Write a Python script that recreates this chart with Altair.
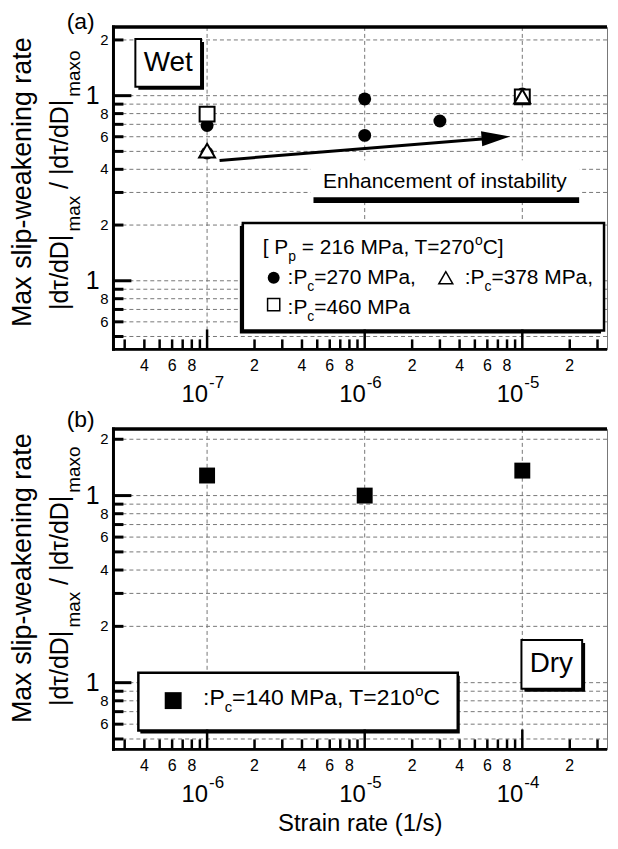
import math
import altair as alt
import pandas as pd

FONT = "Liberation Sans"
W = 496
H_A = 324
H_B = 322

# ---------------- data ----------------
# panel (a) wet
wet_circle_rate = [1e-7, 1e-7, 1e-6, 1e-6, 3e-6, 1e-5]
wet_circle_ratio = [0.69, 0.49, 0.96, 0.61, 0.73, 1.02]
wet_square_rate = [1e-7, 1e-5]
wet_square_ratio = [0.795, 0.985]
wet_triangle_rate = [1e-7, 1e-5]
wet_triangle_ratio = [0.505, 0.99]
arrow_rate = [1.2e-7, 5.55e-6]
arrow_ratio = [0.447, 0.584]
arrow_tip_rate = [8.4e-6]
arrow_tip_ratio = [0.602]
# panel (b) dry
dry_square_rate = [1e-6, 1e-5, 1e-4]
dry_square_ratio = [1.28, 1.0, 1.36]

# axes extents
x_domain_a = [2.547e-8, 3.447e-5]
x_domain_b = [2.547e-7, 3.447e-4]
y_domain_a = [0.0426, 2.35]
y_domain_b = [0.044, 2.27]

# tick values / labels
y_major = [1, 0.1]
y_minor = [2, 0.9, 0.8, 0.7, 0.6, 0.5, 0.4, 0.3, 0.2, 0.09, 0.08, 0.07, 0.06, 0.05]
y_small_label_values = [2, 0.8, 0.6, 0.4, 0.2, 0.08, 0.06]
y_small_label_text = ["2", "8", "6", "4", "2", "8", "6"]
y_big_label_values = [1, 0.1]
y_big_label_text = ["1", "1"]

x_major_a = [1e-7, 1e-6, 1e-5]
x_minor_a = ([m * 1e-8 for m in range(3, 10)] + [m * 1e-7 for m in range(2, 10)]
             + [m * 1e-6 for m in range(2, 10)] + [2e-5, 3e-5])
x_label_values_a = [4e-8, 6e-8, 8e-8, 2e-7, 4e-7, 6e-7, 8e-7, 2e-6, 4e-6, 6e-6, 8e-6, 2e-5]
x_exp_a = ["-7", "-6", "-5"]

x_major_b = [1e-6, 1e-5, 1e-4]
x_minor_b = ([m * 1e-7 for m in range(3, 10)] + [m * 1e-6 for m in range(2, 10)]
             + [m * 1e-5 for m in range(2, 10)] + [2e-4, 3e-4])
x_label_values_b = [4e-7, 6e-7, 8e-7, 2e-6, 4e-6, 6e-6, 8e-6, 2e-5, 4e-5, 6e-5, 8e-5, 2e-4]
x_exp_b = ["-6", "-5", "-4"]
x_label_text = ["4", "6", "8", "2", "4", "6", "8", "2", "4", "6", "8", "2"]

# ---------------- helpers ----------------
ONE = pd.DataFrame({"k": [0]})
ARIAL = {" ": 278, "[": 278, "]": 278, ":": 278, "=": 584, ",": 278, ".": 278,
         "M": 833, "P": 667, "T": 611, "C": 722, "D": 722, "a": 556, "c": 500,
         "p": 556, "o": 556, "x": 500, "m": 833, "d": 556, "|": 260, "/": 278,
         "τ": 520}


def tw(s, size):
    return sum(ARIAL.get(ch, 556) for ch in s) * size / 1000.0


def text_layer(s, x, y, size, align="left", baseline="alphabetic", angle=None):
    kw = dict(text=s, fontSize=size, align=align, baseline=baseline, font=FONT, color="black")
    if angle is not None:
        kw["angle"] = angle
    return alt.Chart(ONE).mark_text(**kw).encode(x=alt.value(x), y=alt.value(y))


def rect_layer(x1, y1, x2, y2, fill, stroke=None, sw=0):
    kw = dict(fill=fill, opacity=1)
    if stroke:
        kw.update(stroke=stroke, strokeWidth=sw)
    return alt.Chart(ONE).mark_rect(**kw).encode(
        x=alt.value(x1), x2=alt.value(x2), y=alt.value(y1), y2=alt.value(y2))


def boxed(x1, y1, x2, y2, dx, dy, sw=2):
    return [rect_layer(x1 + dx, y1 + dy, x2 + dx, y2 + dy, "black"),
            rect_layer(x1, y1, x2, y2, "white", "black", sw)]


def split_spaces(s):
    core = s.strip(" ")
    lead = len(s) - len(s.lstrip(" "))
    trail = len(s) - len(s.rstrip(" "))
    return " " * lead, core, " " * trail


def rich(pieces, x0, y0, main, small, sub_dy=7, sup_dy=-9):
    out = []
    x = x0
    for s, kind in pieces:
        size = main if kind == "m" else small
        dy = 0 if kind == "m" else (sub_dy if kind == "sub" else sup_dy)
        lead, core, trail = split_spaces(s)
        x += tw(lead, size)
        out.append(text_layer(core, x, y0 + dy, size))
        x += tw(core, size) + tw(trail, size)
    return out


def rich_rot(pieces, bx, yc, main, small, sub_dx):
    total = sum(tw(s, main if k == "m" else small) for s, k in pieces)
    y = yc + total / 2
    out = []
    for s, kind in pieces:
        size = main if kind == "m" else small
        dx = 0 if kind == "m" else sub_dx
        lead, core, trail = split_spaces(s)
        y -= tw(lead, size)
        out.append(text_layer(core, bx + dx, y, size, angle=270))
        y -= tw(core, size) + tw(trail, size)
    return out


def symbol_layer(x, y, shape, size, filled, sw=1.5):
    if filled:
        m = alt.Chart(ONE).mark_point(shape=shape, size=size, filled=True, color="black", opacity=1)
    else:
        m = alt.Chart(ONE).mark_point(shape=shape, size=size, filled=True, fill="white",
                                      stroke="black", strokeWidth=sw, opacity=1)
    return m.encode(x=alt.value(x), y=alt.value(y))


def grid_layers(xs, ys, x_major):
    grid = dict(color="#777", strokeWidth=1, strokeDash=[4, 3])
    return [
        alt.Chart(pd.DataFrame({"v": y_major + y_minor})).mark_rule(**grid).encode(
            y=alt.Y("v:Q", scale=ys, axis=None)),
        alt.Chart(pd.DataFrame({"v": x_major})).mark_rule(**grid).encode(
            x=alt.X("v:Q", scale=xs, axis=None)),
    ]


def tick_layers(xs, ys, H, x_major, x_minor, x_label_values, x_exp):
    L = []
    L.append(alt.Chart(pd.DataFrame({"v": y_major})).mark_rule(color="black", strokeWidth=3).encode(
        y=alt.Y("v:Q", scale=ys, axis=None), x=alt.value(0), x2=alt.value(18)))
    L.append(alt.Chart(pd.DataFrame({"v": y_minor})).mark_rule(color="black", strokeWidth=3).encode(
        y=alt.Y("v:Q", scale=ys, axis=None), x=alt.value(0), x2=alt.value(10)))
    L.append(alt.Chart(pd.DataFrame({"v": x_major})).mark_rule(color="black", strokeWidth=2.5).encode(
        x=alt.X("v:Q", scale=xs, axis=None), y=alt.value(H), y2=alt.value(H - 20)))
    L.append(alt.Chart(pd.DataFrame({"v": x_minor})).mark_rule(color="black", strokeWidth=2.5).encode(
        x=alt.X("v:Q", scale=xs, axis=None), y=alt.value(H), y2=alt.value(H - 10)))
    # frame lines (left, bottom, top)
    L.append(alt.Chart(ONE).mark_rule(color="black", strokeWidth=3).encode(
        x=alt.value(0), y=alt.value(-1.5), y2=alt.value(H + 1.5)))
    L.append(alt.Chart(ONE).mark_rule(color="black", strokeWidth=3).encode(
        x=alt.value(-1.5), x2=alt.value(W), y=alt.value(H)))
    L.append(alt.Chart(ONE).mark_rule(color="black", strokeWidth=3.5).encode(
        x=alt.value(-1.5), x2=alt.value(W), y=alt.value(0)))
    # tick labels
    L.append(alt.Chart(pd.DataFrame({"v": y_small_label_values, "t": y_small_label_text})).mark_text(
        font=FONT, fontSize=15, align="right", baseline="middle", color="black").encode(
        y=alt.Y("v:Q", scale=ys, axis=None), x=alt.value(-5), text="t:N"))
    L.append(alt.Chart(pd.DataFrame({"v": y_big_label_values, "t": y_big_label_text})).mark_text(
        font=FONT, fontSize=25, align="right", baseline="middle", color="black").encode(
        y=alt.Y("v:Q", scale=ys, axis=None), x=alt.value(-14), text="t:N"))
    L.append(alt.Chart(pd.DataFrame({"v": x_label_values, "t": x_label_text})).mark_text(
        font=FONT, fontSize=16, align="center", baseline="top", color="black").encode(
        x=alt.X("v:Q", scale=xs, axis=None), y=alt.value(H + 9), text="t:N"))
    dec = pd.DataFrame({"v": x_major, "b": ["10"] * len(x_major), "e": x_exp})
    L.append(alt.Chart(dec).mark_text(font=FONT, fontSize=24, align="right", dx=1,
                                      baseline="alphabetic", color="black").encode(
        x=alt.X("v:Q", scale=xs, axis=None), y=alt.value(H + 53), text="b:N"))
    L.append(alt.Chart(dec).mark_text(font=FONT, fontSize=17, align="left", dx=2,
                                      baseline="alphabetic", color="black").encode(
        x=alt.X("v:Q", scale=xs, axis=None), y=alt.value(H + 39), text="e:N"))
    return L


def ytitle_layers(yc):
    L = [text_layer("Max slip-weakening rate", -83, yc, 27, align="center", angle=270)]
    L += rich_rot([("|dτ/dD|", "m"), ("max", "s"), (" / ", "m"), ("|dτ/dD|", "m"), ("maxo", "s")],
                  -46, yc - 2, 25, 19, 12)
    return L


def pts(rates, ratios, xs, ys, shape, size, filled, sw=2):
    df = pd.DataFrame({"rate": rates, "ratio": ratios})
    if filled:
        m = alt.Chart(df).mark_point(shape=shape, size=size, filled=True, color="black", opacity=1)
    else:
        m = alt.Chart(df).mark_point(shape=shape, size=size, filled=True, fill="white",
                                     stroke="black", strokeWidth=sw, opacity=1)
    return m.encode(x=alt.X("rate:Q", scale=xs, axis=None), y=alt.Y("ratio:Q", scale=ys, axis=None))


# ---------------- panel (a) ----------------
xs_a = alt.Scale(type="log", domain=x_domain_a, nice=False)
ys_a = alt.Scale(type="log", domain=y_domain_a, nice=False)

la = grid_layers(xs_a, ys_a, x_major_a)
la.append(rect_layer(198, 134, 468, 172, "white"))
la.append(rect_layer(201, 171, 468, 177, "black"))
la += boxed(130, 197, 493, 305, -3, 3, 2.5)
la += boxed(22, 12, 88, 60, 3, 3, 2)
la += tick_layers(xs_a, ys_a, H_A, x_major_a, x_minor_a, x_label_values_a, x_exp_a)

la.append(pts(wet_circle_rate, wet_circle_ratio, xs_a, ys_a, "circle", 169, True))
la.append(pts(wet_square_rate, wet_square_ratio, xs_a, ys_a, "square", 225, False))
la.append(pts(wet_triangle_rate, wet_triangle_ratio, xs_a, ys_a, "triangle-up", 256, False))

la.append(alt.Chart(pd.DataFrame({"rate": arrow_rate, "ratio": arrow_ratio})).mark_line(
    color="black", strokeWidth=3).encode(
    x=alt.X("rate:Q", scale=xs_a, axis=None), y=alt.Y("ratio:Q", scale=ys_a, axis=None)))


def px_a(r):
    return W * (math.log10(r) - math.log10(x_domain_a[0])) / (math.log10(x_domain_a[1]) - math.log10(x_domain_a[0]))


def py_a(v):
    return H_A * (math.log10(y_domain_a[1]) - math.log10(v)) / (math.log10(y_domain_a[1]) - math.log10(y_domain_a[0]))


ang = math.degrees(math.atan2(py_a(arrow_tip_ratio[0]) - py_a(arrow_ratio[0]),
                              px_a(arrow_tip_rate[0]) - px_a(arrow_rate[0]))) % 360
la.append(alt.Chart(pd.DataFrame({"rate": arrow_tip_rate, "ratio": arrow_tip_ratio})).mark_point(
    shape="M0,0L-2,-0.52L-2,0.52Z", size=841, filled=True, color="black", opacity=1, angle=ang).encode(
    x=alt.X("rate:Q", scale=xs_a, axis=None), y=alt.Y("ratio:Q", scale=ys_a, axis=None)))

la.append(text_layer("Enhancement of instability", 333, 162, 21, align="center"))
la.append(text_layer("Wet", 55, 36, 28, align="center", baseline="middle"))
la.append(text_layer("(a)", -33, 2, 23, align="center"))
la += rich([("[ P", "m"), ("p", "sub"), (" = 216 MPa, T=270", "m"), ("o", "sup"), ("C]", "m")],
           150, 228, 21, 14)
la.append(symbol_layer(161, 252, "circle", 144, True))
la += rich([(":P", "m"), ("c", "sub"), ("=270 MPa,", "m")], 175, 258, 21, 14)
la.append(symbol_layer(334, 252, "triangle-up", 196, False))
la += rich([(":P", "m"), ("c", "sub"), ("=378 MPa,", "m")], 353, 258, 21, 14)
la.append(symbol_layer(161, 279, "square", 150, False))
la += rich([(":P", "m"), ("c", "sub"), ("=460 MPa", "m")], 175, 288, 21, 14)
la += ytitle_layers(156)

panel_a = alt.layer(*la).properties(width=W, height=H_A)

# ---------------- panel (b) ----------------
xs_b = alt.Scale(type="log", domain=x_domain_b, nice=False)
ys_b = alt.Scale(type="log", domain=y_domain_b, nice=False)

lb = grid_layers(xs_b, ys_b, x_major_b)
lb += boxed(25, 245, 346, 303, 2, 3, 2.5)
lb += boxed(410, 212, 471, 261, 3, 3, 2)
lb += tick_layers(xs_b, ys_b, H_B, x_major_b, x_minor_b, x_label_values_b, x_exp_b)
lb.append(pts(dry_square_rate, dry_square_ratio, xs_b, ys_b, "square", 256, True))
lb.append(text_layer("Dry", 440, 236, 28, align="center", baseline="middle"))
lb.append(text_layer("(b)", -33, -2, 23, align="center"))
lb.append(symbol_layer(60, 273, "square", 289, True))
lb += rich([(":P", "m"), ("c", "sub"), ("=140 MPa, T=210", "m"), ("o", "sup"), ("C", "m")],
           90, 277, 23, 15)
lb.append(text_layer("Strain rate (1/s)", W / 2, H_B + 82, 24, align="center"))
lb += ytitle_layers(150)

panel_b = alt.layer(*lb).properties(width=W, height=H_B)

chart = alt.vconcat(panel_a, panel_b, spacing=80, bounds="flush").properties(
    padding={"left": 0, "top": 0, "right": 0, "bottom": 0}
).configure_view(stroke="#777", strokeWidth=1)

chart.save("out.html", embed_options={"renderer": "svg", "actions": False})
